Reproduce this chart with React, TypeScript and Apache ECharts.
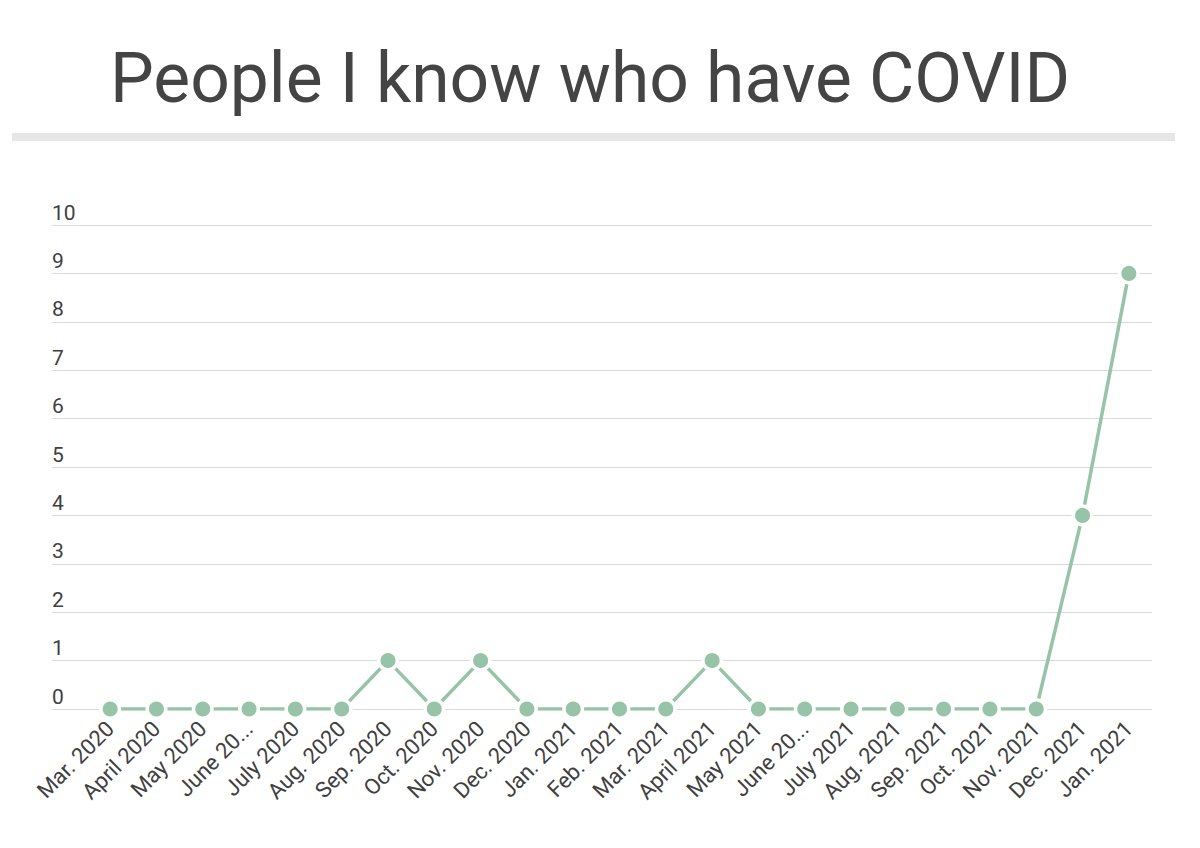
import React, { useEffect, useRef } from "react";
import * as echarts from "echarts";

const TITLE = "People I know who have COVID";
const categories = [
  "Mar. 2020", "April 2020", "May 2020", "June 20...", "July 2020", "Aug. 2020",
  "Sep. 2020", "Oct. 2020", "Nov. 2020", "Dec. 2020", "Jan. 2021", "Feb. 2021",
  "Mar. 2021", "April 2021", "May 2021", "June 20...", "July 2021", "Aug. 2021",
  "Sep. 2021", "Oct. 2021", "Nov. 2021", "Dec. 2021", "Jan. 2021",
];
const values = [0, 0, 0, 0, 0, 0, 1, 0, 1, 0, 0, 0, 0, 1, 0, 0, 0, 0, 0, 0, 0, 4, 9];
const yMin = 0;
const yMax = 10;
const yInterval = 1;

export default function App() {
  const ref = useRef<HTMLDivElement>(null);
  useEffect(() => {
    if (!ref.current) return;
    const chart = echarts.init(ref.current, null, { renderer: "svg" });
    const font = "Roboto";
    chart.setOption({
      animation: false,
      backgroundColor: "#ffffff",
      textStyle: { fontFamily: font },
      graphic: [
        {
          type: "text",
          x: 590,
          y: 78,
          style: {
            text: TITLE,
            fontFamily: font,
            fontSize: 69.5,
            fill: "#444444",
            textAlign: "center",
            textVerticalAlign: "middle",
          },
        },
        {
          type: "rect",
          shape: { x: 12, y: 133, width: 1163, height: 8 },
          style: { fill: "#e6e6e6" },
        },
      ],
      grid: [
        { left: 52, right: 48, top: 225, bottom: 139 },
        { left: 87, right: 48, top: 225, bottom: 139 },
      ],
      xAxis: [
        { type: "value", gridIndex: 0, show: false, min: 0, max: 1 },
        {
          type: "category",
          gridIndex: 1,
          data: categories,
          boundaryGap: true,
          axisLine: { show: false },
          axisTick: { show: false },
          axisLabel: {
            interval: 0,
            rotate: 45,
            margin: 16,
            fontSize: 22,
            color: "#404040",
            fontFamily: font,
          },
        },
      ],
      yAxis: [
        {
          type: "value",
          gridIndex: 0,
          min: yMin,
          max: yMax,
          interval: yInterval,
          axisLine: { show: false },
          axisTick: { show: false },
          splitLine: { show: true, lineStyle: { color: "#d9d9d9", width: 1 } },
          axisLabel: {
            inside: true,
            margin: 0,
            align: "left",
            verticalAlign: "bottom",
            padding: [0, 0, 2, 0],
            fontSize: 21,
            color: "#404040",
            fontFamily: font,
          },
        },
        {
          type: "value",
          gridIndex: 1,
          min: yMin,
          max: yMax,
          interval: yInterval,
          show: false,
          splitLine: { show: false },
        },
      ],
      series: [
        {
          type: "line",
          xAxisIndex: 1,
          yAxisIndex: 1,
          data: values,
          symbol: "circle",
          symbolSize: 18.5,
          showAllSymbol: true,
          lineStyle: { color: "#97c4a8", width: 3.5 },
          itemStyle: { color: "#97c4a8", borderColor: "#ffffff", borderWidth: 3.5 },
        },
      ],
    });
    return () => chart.dispose();
  }, []);
  return (
    <div
      ref={ref}
      style={{ position: "fixed", left: 0, top: 0, width: 1200, height: 848 }}
    />
  );
}
